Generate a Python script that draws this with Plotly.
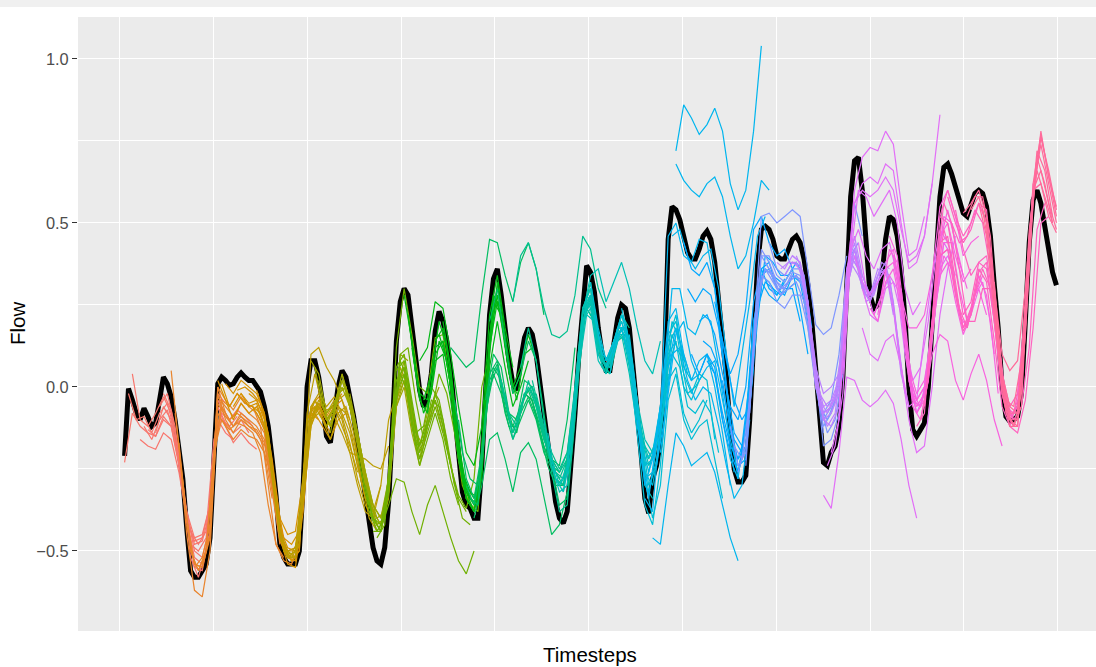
import math
import plotly.graph_objects as go

# ---------------- data ----------------
timesteps = list(range(241))

flow_observed = [
    -0.21, -0.005, -0.04, -0.08, -0.10, -0.065, -0.09, -0.12, -0.11, -0.03, 0.03, 0.01,
    -0.03, -0.10, -0.19, -0.28, -0.43, -0.56, -0.58, -0.58, -0.56, -0.54, -0.46, -0.25,
    0.01, 0.03, 0.02, 0.005, 0.01, 0.03, 0.043, 0.03, 0.02, 0.02, 0.005, -0.015,
    -0.06, -0.12, -0.22, -0.33, -0.48, -0.52, -0.54, -0.54, -0.54, -0.50, -0.30, 0.0,
    0.08, 0.08, 0.03, -0.05, -0.15, -0.17, -0.09, 0.0, 0.05, 0.03, -0.03, -0.09,
    -0.17, -0.25, -0.33, -0.41, -0.49, -0.53, -0.54, -0.49, -0.35, -0.12, 0.14, 0.26,
    0.30, 0.28, 0.18, 0.07, -0.01, -0.06, -0.04, 0.04, 0.17, 0.23, 0.20, 0.14,
    0.05, -0.08, -0.21, -0.32, -0.36, -0.37, -0.40, -0.40, -0.24, 0.01, 0.22, 0.33,
    0.36, 0.28, 0.17, 0.08, 0.01, -0.01, 0.08, 0.15, 0.18, 0.16, 0.10, 0.01,
    -0.09, -0.18, -0.27, -0.35, -0.40, -0.415, -0.38, -0.25, -0.08, 0.10, 0.26, 0.37,
    0.35, 0.29, 0.18, 0.10, 0.05, 0.05, 0.13, 0.21, 0.25, 0.24, 0.18, 0.06,
    -0.06, -0.20, -0.34, -0.385, -0.28, -0.24, -0.17, 0.05, 0.45, 0.55, 0.54, 0.51,
    0.46, 0.41, 0.39, 0.39, 0.42, 0.46, 0.475, 0.45, 0.38, 0.27, 0.16, 0.03,
    -0.13, -0.25, -0.29, -0.29, -0.27, -0.10, 0.13, 0.37, 0.48, 0.49, 0.48, 0.45,
    0.40, 0.39, 0.39, 0.42, 0.45, 0.46, 0.44, 0.39, 0.31, 0.20, 0.06, -0.06,
    -0.23, -0.24, -0.20, -0.18, -0.12, 0.03, 0.35, 0.58, 0.69, 0.70, 0.60, 0.42,
    0.28, 0.24, 0.25, 0.33, 0.45, 0.52, 0.51, 0.46, 0.36, 0.21, 0.0, -0.13,
    -0.15, -0.13, -0.11, 0.0, 0.19, 0.38, 0.58, 0.67, 0.68, 0.65, 0.61, 0.57,
    0.53, 0.52, 0.55, 0.59, 0.60, 0.59, 0.55, 0.46, 0.31, 0.18, 0.0, -0.09,
    -0.105, -0.10, -0.09, -0.02, 0.20, 0.44, 0.57, 0.60, 0.56, 0.49, 0.41, 0.35, 0.31,
]

# forecast groups: (issue timestep, values every 2 timesteps)
fc_00 = [
    (0, [-0.23, -0.08, -0.12, -0.14, -0.15, -0.10, -0.12, -0.24, -0.38, -0.46, -0.45, -0.36, -0.04]),
    (1, [-0.02, -0.10, -0.09, -0.14, -0.08, -0.05, -0.14, -0.30, -0.48, -0.50, -0.46, -0.20, -0.06]),
    (2, [0.04, -0.10, -0.12, -0.08, -0.03, -0.08, -0.20, -0.40, -0.52, -0.54, -0.44, -0.02, -0.05]),
    (4, [-0.16, -0.18, -0.19, -0.14, -0.16, -0.26, -0.40, -0.47, -0.46, -0.36, -0.10, -0.14, -0.16]),
    (5, [-0.12, -0.16, -0.10, -0.07, -0.16, -0.32, -0.44, -0.48, -0.44, -0.16, -0.10, -0.12, -0.09]),
    (6, [-0.13, -0.15, -0.09, -0.12, -0.23, -0.39, -0.48, -0.47, -0.38, -0.06, -0.11, -0.14, -0.12]),
    (8, [-0.14, -0.06, -0.10, -0.22, -0.41, -0.55, -0.56, -0.44, -0.04, -0.08, -0.12, -0.10, -0.14]),
    (9, [-0.06, -0.02, -0.12, -0.30, -0.52, -0.58, -0.50, -0.20, -0.08, -0.10, -0.07, -0.09, -0.12]),
    (10, [-0.02, -0.07, -0.20, -0.38, -0.50, -0.52, -0.42, -0.06, -0.12, -0.17, -0.14, -0.17, -0.19]),
]
fc_01 = [
    (12, [0.05, -0.18, -0.45, -0.62, -0.64, -0.50, -0.05, -0.09, -0.12, -0.09, -0.12, -0.14, -0.18]),
    (13, [-0.08, -0.30, -0.50, -0.56, -0.50, -0.22, -0.06, -0.10, -0.08, -0.10, -0.12, -0.16, -0.24]),
    (14, [-0.17, -0.40, -0.54, -0.55, -0.45, -0.08, -0.12, -0.16, -0.13, -0.15, -0.16, -0.20, -0.34]),
    (16, [-0.42, -0.54, -0.55, -0.46, -0.03, -0.06, -0.09, -0.05, -0.08, -0.10, -0.14, -0.30, -0.48]),
    (17, [-0.50, -0.56, -0.50, -0.20, -0.10, -0.13, -0.11, -0.12, -0.14, -0.20, -0.36, -0.48, -0.52]),
    (18, [-0.55, -0.52, -0.42, -0.02, -0.10, -0.14, -0.10, -0.12, -0.13, -0.17, -0.32, -0.47, -0.52]),
    (20, [-0.54, -0.45, 0.00, -0.04, -0.07, -0.03, -0.06, -0.08, -0.13, -0.28, -0.46, -0.52, -0.53]),
    (21, [-0.50, -0.22, -0.04, -0.06, -0.02, -0.05, -0.06, -0.12, -0.30, -0.48, -0.53, -0.54, -0.48]),
    (22, [-0.45, 0.00, -0.08, -0.12, -0.08, -0.10, -0.12, -0.16, -0.30, -0.45, -0.50, -0.49, -0.36]),
]
fc_02 = [
    (24, [0.02, -0.04, -0.10, -0.05, -0.08, -0.06, -0.12, -0.26, -0.45, -0.51, -0.52, -0.36, -0.12]),
    (25, [0.01, -0.06, -0.02, -0.05, -0.06, -0.08, -0.16, -0.34, -0.50, -0.53, -0.50, -0.10, -0.06]),
    (26, [0.01, -0.02, 0.02, 0.00, -0.02, -0.08, -0.24, -0.46, -0.54, -0.55, -0.38, -0.08, -0.10]),
    (28, [-0.06, -0.02, -0.05, -0.04, -0.10, -0.25, -0.44, -0.52, -0.53, -0.34, -0.10, -0.06, -0.12]),
    (29, [-0.01, 0.00, -0.02, -0.05, -0.14, -0.32, -0.48, -0.53, -0.50, -0.10, -0.04, -0.10, -0.14]),
    (30, [-0.02, -0.06, -0.05, -0.12, -0.27, -0.45, -0.50, -0.50, -0.33, -0.09, -0.05, -0.10, -0.08]),
    (32, [-0.02, -0.04, -0.09, -0.24, -0.43, -0.49, -0.50, -0.32, -0.06, -0.03, -0.09, -0.05, -0.02]),
    (33, [-0.06, -0.10, -0.16, -0.34, -0.46, -0.48, -0.44, -0.16, -0.08, -0.12, -0.16, -0.10, -0.08]),
    (34, [-0.01, -0.08, -0.22, -0.40, -0.45, -0.44, -0.28, -0.07, -0.05, -0.10, -0.06, -0.04, -0.10]),
]
fc_03 = [
    (36, [-0.10, -0.28, -0.46, -0.52, -0.50, -0.30, -0.10, -0.05, -0.07, -0.06, -0.12, -0.18, -0.26]),
    (37, [-0.14, -0.36, -0.50, -0.51, -0.46, -0.12, -0.04, -0.08, -0.12, -0.06, -0.08, -0.16, -0.28]),
    (38, [-0.26, -0.44, -0.50, -0.49, -0.27, -0.06, -0.02, -0.06, -0.03, -0.08, -0.14, -0.24, -0.34]),
    (40, [-0.46, -0.52, -0.52, -0.32, -0.10, -0.08, -0.12, -0.09, -0.14, -0.20, -0.30, -0.38, -0.40]),
    (41, [-0.50, -0.52, -0.48, -0.16, -0.06, -0.10, -0.16, -0.08, -0.06, -0.14, -0.28, -0.40, -0.44]),
    (42, [-0.50, -0.52, -0.34, 0.10, 0.12, 0.06, 0.02, -0.04, -0.12, -0.24, -0.34, -0.38, -0.30]),
    (44, [-0.50, -0.35, -0.12, -0.06, -0.10, -0.06, -0.10, -0.20, -0.21, -0.22, -0.24, -0.25, -0.18]),
    (45, [-0.46, -0.08, 0.04, -0.06, -0.12, -0.04, -0.02, -0.10, -0.22, -0.34, -0.42, -0.40, -0.20]),
    (46, [-0.33, -0.10, -0.04, -0.08, -0.04, -0.09, -0.17, -0.28, -0.36, -0.40, -0.30, -0.10, -0.02]),
]
fc_04 = [
    (48, [0.08, 0.04, -0.08, -0.05, 0.02, -0.05, -0.16, -0.28, -0.38, -0.42, -0.30, -0.04, 0.04]),
    (49, [0.06, -0.06, -0.12, -0.02, 0.00, -0.10, -0.22, -0.36, -0.44, -0.40, -0.16, 0.10, 0.08]),
    (50, [0.02, -0.10, -0.07, 0.00, -0.06, -0.17, -0.30, -0.40, -0.44, -0.32, -0.06, 0.02, -0.10]),
    (52, [-0.12, -0.06, 0.04, -0.04, -0.14, -0.26, -0.36, -0.40, -0.28, -0.02, 0.06, -0.08, -0.20]),
    (53, [-0.14, -0.02, 0.00, -0.08, -0.20, -0.32, -0.40, -0.38, -0.14, 0.06, 0.00, -0.16, -0.20]),
    (54, [-0.08, 0.02, -0.05, -0.16, -0.28, -0.38, -0.42, -0.32, -0.04, 0.02, -0.12, -0.22, -0.10]),
    (56, [0.04, -0.06, -0.18, -0.30, -0.40, -0.44, -0.34, -0.06, 0.00, -0.14, -0.24, -0.12, -0.06]),
    (57, [-0.02, -0.10, -0.22, -0.34, -0.42, -0.40, -0.16, 0.04, 0.02, -0.14, -0.18, -0.06, 0.00]),
    (58, [-0.02, -0.14, -0.26, -0.36, -0.40, -0.30, -0.02, 0.08, -0.06, -0.18, -0.08, -0.04, -0.14]),
]
fc_05 = [
    (60, [-0.20, -0.32, -0.40, -0.42, -0.28, 0.02, 0.06, -0.10, -0.22, -0.14, -0.06, -0.14, -0.24]),
    (61, [-0.26, -0.38, -0.44, -0.40, -0.12, 0.04, -0.02, -0.18, -0.16, -0.04, -0.06, -0.18, -0.30]),
    (62, [-0.30, -0.40, -0.44, -0.32, -0.02, 0.04, -0.12, -0.24, -0.16, -0.08, -0.16, -0.28, -0.36]),
    (64, [-0.44, -0.44, -0.30, 0.06, 0.10, -0.04, -0.18, -0.10, -0.02, -0.10, -0.24, -0.34, -0.38]),
    (65, [-0.46, -0.42, -0.14, 0.08, 0.02, -0.14, -0.12, 0.00, -0.04, -0.16, -0.30, -0.40, -0.42]),
    (66, [-0.43, -0.36, -0.28, -0.29, -0.38, -0.45, -0.36, -0.30, -0.38, -0.46, -0.53, -0.57, -0.50]),
    (68, [-0.30, 0.12, 0.30, 0.16, 0.00, -0.02, 0.15, 0.16, 0.00, -0.22, -0.34, -0.37, -0.22]),
    (69, [-0.16, 0.10, 0.12, -0.04, -0.16, -0.08, 0.04, -0.02, -0.14, -0.30, -0.36, -0.38, -0.10]),
    (70, [0.05, 0.08, -0.06, -0.20, -0.12, -0.04, -0.12, -0.24, -0.33, -0.37, -0.28, 0.00, 0.10]),
]
fc_06 = [
    (72, [0.28, 0.14, -0.02, -0.04, 0.12, 0.14, 0.00, -0.20, -0.32, -0.36, -0.22, 0.16, 0.30]),
    (73, [0.22, 0.04, -0.08, -0.02, 0.14, 0.08, -0.08, -0.28, -0.34, -0.36, -0.04, 0.28, 0.24]),
    (74, [0.12, -0.04, -0.08, 0.08, 0.10, -0.04, -0.22, -0.34, -0.38, -0.24, 0.12, 0.26, 0.14]),
    (76, [0.08, 0.12, 0.26, 0.24, 0.10, -0.06, -0.20, -0.24, -0.12, 0.22, 0.34, 0.18, 0.06]),
    (77, [-0.04, 0.04, 0.20, 0.12, -0.06, -0.26, -0.32, -0.34, 0.00, 0.28, 0.22, 0.04, -0.02]),
    (78, [-0.08, 0.10, 0.14, 0.00, -0.20, -0.34, -0.38, -0.26, 0.14, 0.28, 0.12, -0.02, 0.04]),
    (80, [0.14, 0.18, 0.04, -0.18, -0.30, -0.34, -0.24, 0.06, 0.20, 0.06, -0.06, 0.00, 0.08]),
    (81, [0.16, 0.08, -0.06, -0.26, -0.34, -0.36, -0.02, 0.26, 0.22, 0.06, -0.04, 0.10, 0.12]),
    (82, [0.20, 0.06, -0.16, -0.32, -0.38, -0.28, 0.10, 0.32, 0.16, 0.00, 0.06, 0.16, 0.08]),
]
fc_07 = [
    (84, [0.12, 0.09, 0.06, 0.08, 0.28, 0.45, 0.44, 0.34, 0.26, 0.38, 0.44, 0.36, 0.22]),
    (85, [-0.04, -0.20, -0.28, -0.30, -0.08, 0.06, 0.02, -0.10, -0.14, -0.02, -0.04, -0.14, -0.22]),
    (86, [-0.10, -0.28, -0.34, -0.20, 0.00, 0.06, -0.08, -0.16, -0.10, -0.04, -0.10, -0.20, -0.25]),
    (88, [-0.30, -0.36, -0.24, 0.02, 0.07, -0.06, -0.14, -0.08, -0.03, -0.09, -0.18, -0.24, -0.26]),
    (89, [-0.34, -0.36, -0.08, 0.04, -0.02, -0.12, -0.12, -0.02, -0.04, -0.14, -0.24, -0.30, -0.30]),
    (90, [-0.40, -0.30, -0.16, -0.14, -0.22, -0.32, -0.20, -0.17, -0.22, -0.33, -0.45, -0.42, -0.32]),
    (92, [-0.22, 0.04, 0.08, -0.04, -0.12, -0.06, -0.01, -0.08, -0.16, -0.22, -0.24, -0.10, 0.12]),
    (93, [-0.04, 0.10, 0.06, -0.08, -0.10, 0.02, 0.00, -0.10, -0.20, -0.28, -0.30, -0.16, 0.06]),
    (94, [0.20, 0.30, 0.14, -0.02, 0.04, 0.14, 0.08, -0.08, -0.24, -0.36, -0.34, -0.06, 0.22]),
]
fc_08 = [
    (96, [0.06, -0.04, -0.14, -0.06, 0.00, -0.04, -0.14, -0.22, -0.26, -0.22, -0.04, 0.22, 0.28]),
    (97, [0.02, -0.08, -0.12, -0.02, 0.00, -0.08, -0.18, -0.26, -0.28, -0.14, 0.12, 0.24, 0.20]),
    (98, [-0.02, -0.16, -0.08, 0.02, -0.06, -0.15, -0.24, -0.28, -0.22, -0.02, 0.20, 0.26, 0.10]),
    (100, [0.26, 0.40, 0.44, 0.36, 0.24, 0.16, 0.15, 0.17, 0.28, 0.46, 0.42, 0.30, 0.24]),
    (101, [-0.10, -0.02, 0.00, -0.10, -0.20, -0.28, -0.30, -0.16, 0.10, 0.24, 0.20, 0.06, 0.04]),
    (102, [0.06, 0.18, 0.08, -0.10, -0.26, -0.38, -0.36, -0.10, 0.22, 0.32, 0.16, 0.05, 0.10]),
    (104, [0.00, -0.06, -0.16, -0.22, -0.26, -0.20, 0.00, 0.24, 0.30, 0.14, 0.06, 0.14, 0.20]),
    (105, [0.02, -0.08, -0.18, -0.26, -0.30, -0.22, 0.04, 0.26, 0.24, 0.08, 0.04, 0.14, 0.16]),
    (106, [-0.02, -0.12, -0.20, -0.25, -0.20, -0.02, 0.20, 0.27, 0.12, 0.06, 0.12, 0.22, 0.18]),
]
fc_09 = [
    (108, [-0.10, -0.24, -0.32, -0.30, -0.06, 0.20, 0.28, 0.12, 0.06, 0.14, 0.18, 0.06, -0.10]),
    (109, [-0.14, -0.28, -0.32, -0.20, 0.06, 0.22, 0.20, 0.08, 0.06, 0.16, 0.14, 0.00, -0.16]),
    (110, [-0.22, -0.30, -0.26, -0.04, 0.20, 0.24, 0.08, 0.04, 0.12, 0.16, 0.04, -0.12, -0.20]),
    (112, [-0.30, -0.24, 0.00, 0.24, 0.30, 0.14, 0.06, 0.14, 0.22, 0.14, -0.04, -0.30, -0.34]),
    (113, [-0.32, -0.16, 0.08, 0.26, 0.22, 0.08, 0.06, 0.18, 0.18, 0.04, -0.14, -0.24, -0.18]),
    (114, [-0.22, -0.02, 0.22, 0.34, 0.36, 0.26, 0.32, 0.38, 0.30, 0.18, 0.08, 0.04, 0.14]),
    (116, [-0.04, 0.20, 0.26, 0.10, 0.04, 0.12, 0.18, 0.10, -0.06, -0.18, -0.22, -0.14, 0.04]),
    (117, [0.06, 0.28, 0.24, 0.08, 0.06, 0.16, 0.16, 0.02, -0.14, -0.22, -0.16, 0.00, 0.16]),
    (118, [0.24, 0.28, 0.10, 0.06, 0.14, 0.20, 0.12, -0.04, -0.16, -0.20, -0.12, 0.06, 0.14]),
]
fc_10 = [
    (120, [0.32, 0.18, 0.08, 0.14, 0.22, 0.14, -0.06, -0.22, -0.20, -0.06, 0.16, 0.20, 0.08]),
    (121, [0.22, 0.10, 0.08, 0.18, 0.18, 0.04, -0.16, -0.26, -0.14, 0.02, 0.20, 0.14, 0.04]),
    (122, [0.16, 0.08, 0.14, 0.20, 0.12, -0.08, -0.24, -0.22, -0.08, 0.14, 0.22, 0.06, 0.02]),
    (124, [0.06, 0.12, 0.18, 0.10, -0.10, -0.28, -0.26, -0.10, 0.10, 0.14, 0.00, -0.04, 0.02]),
    (125, [0.04, 0.16, 0.18, 0.04, -0.18, -0.32, -0.22, -0.04, 0.16, 0.10, -0.02, 0.00, 0.04]),
    (126, [0.10, 0.18, 0.08, -0.14, -0.36, -0.42, -0.24, 0.02, 0.06, -0.08, -0.14, -0.10, -0.04]),
    (128, [0.24, 0.14, -0.06, -0.26, -0.30, -0.16, 0.12, 0.18, 0.04, -0.02, 0.04, 0.02, -0.16]),
    (129, [0.20, 0.06, -0.14, -0.30, -0.24, -0.06, 0.10, 0.06, -0.06, -0.08, -0.04, -0.08, -0.20]),
    (130, [0.16, -0.04, -0.28, -0.40, -0.30, -0.04, 0.04, -0.10, -0.16, -0.12, -0.10, -0.22, -0.34]),
]
fc_11 = [
    (132, [-0.10, -0.30, -0.22, -0.06, 0.20, 0.24, 0.10, 0.02, 0.08, 0.10, 0.00, -0.14, -0.30]),
    (133, [-0.22, -0.34, -0.16, 0.02, 0.30, 0.30, 0.18, 0.16, 0.22, 0.20, 0.06, -0.10, -0.26]),
    (134, [-0.34, -0.38, -0.10, 0.46, 0.50, 0.40, 0.38, 0.45, 0.44, 0.30, 0.10, -0.12, -0.28]),
    (136, [-0.46, -0.48, -0.30, -0.14, -0.18, -0.24, -0.22, -0.20, -0.26, -0.36, -0.46, -0.53]),
    (137, [-0.24, -0.10, 0.10, 0.12, 0.02, -0.04, 0.00, -0.02, -0.12, -0.24, -0.34, -0.30, -0.10]),
    (138, [-0.20, -0.02, 0.16, 0.20, 0.08, 0.02, 0.06, 0.08, -0.04, -0.16, -0.26, -0.18, 0.06]),
    (140, [0.06, 0.18, 0.10, 0.02, 0.04, 0.10, 0.04, -0.10, -0.22, -0.28, -0.10, 0.20, 0.30]),
    (141, [0.46, 0.48, 0.40, 0.36, 0.40, 0.42, 0.30, 0.10, -0.06, 0.10, 0.26, 0.46, 0.52]),
    (142, [0.72, 0.86, 0.82, 0.77, 0.80, 0.85, 0.78, 0.62, 0.54, 0.60, 0.78, 1.04]),
    (142, [0.68, 0.63, 0.60, 0.58, 0.62, 0.64, 0.58, 0.46, 0.36, 0.40, 0.50, 0.63, 0.60]),
]
fc_12 = [
    (144, [0.44, 0.36, 0.34, 0.38, 0.30, 0.12, -0.10, -0.24, -0.22, 0.10, 0.36, 0.38, 0.30]),
    (145, [0.30, 0.26, 0.30, 0.28, 0.18, 0.00, -0.14, -0.18, 0.02, 0.30, 0.36, 0.34, 0.32]),
    (146, [0.10, 0.04, 0.10, 0.06, -0.10, -0.20, -0.26, -0.12, 0.18, 0.34, 0.32, 0.28, 0.33]),
    (148, [0.20, 0.22, 0.16, 0.04, -0.06, -0.10, 0.00, 0.26, 0.36, 0.30, 0.28, 0.32, 0.36]),
    (149, [0.14, 0.12, 0.06, -0.06, -0.16, -0.20, -0.06, 0.24, 0.32, 0.30, 0.28, 0.30, 0.32]),
    (150, [0.08, 0.04, -0.08, -0.18, -0.22, -0.14, 0.20, 0.32, 0.28, 0.26, 0.30, 0.30, 0.20]),
    (152, [0.26, 0.14, 0.04, 0.10, 0.24, 0.48, 0.52, 0.44, 0.40, 0.42, 0.36, 0.24, 0.10]),
    (153, [0.20, 0.08, -0.04, -0.10, -0.06, 0.20, 0.40, 0.38, 0.34, 0.34, 0.38, 0.34, 0.18]),
    (154, [0.02, -0.14, -0.22, -0.18, 0.14, 0.34, 0.36, 0.30, 0.28, 0.34, 0.32, 0.20, 0.02]),
]
fc_13 = [
    (156, [-0.12, -0.24, -0.20, 0.12, 0.40, 0.40, 0.34, 0.32, 0.36, 0.36, 0.24, 0.04, -0.14]),
    (157, [-0.18, -0.22, -0.04, 0.26, 0.36, 0.34, 0.30, 0.32, 0.34, 0.30, 0.14, -0.06, -0.10]),
    (158, [-0.26, -0.18, 0.14, 0.42, 0.38, 0.32, 0.30, 0.34, 0.33, 0.22, 0.02, -0.10, -0.06]),
    (160, [-0.24, 0.10, 0.34, 0.32, 0.26, 0.24, 0.28, 0.28, 0.18, 0.00, -0.12, -0.08, 0.00]),
    (161, [-0.08, 0.28, 0.36, 0.32, 0.28, 0.30, 0.32, 0.26, 0.10, -0.06, -0.10, -0.04, 0.10]),
    (162, [0.14, 0.52, 0.53, 0.50, 0.52, 0.54, 0.52, 0.36, 0.19, 0.16, 0.18, 0.28, 0.40]),
    (164, [0.40, 0.36, 0.30, 0.30, 0.35, 0.34, 0.22, 0.00, -0.08, -0.04, 0.10, 0.34, 0.42]),
    (165, [0.38, 0.34, 0.28, 0.32, 0.34, 0.30, 0.14, -0.04, -0.14, -0.10, 0.04, 0.40, 0.44]),
    (166, [0.44, 0.36, 0.34, 0.38, 0.37, 0.26, 0.04, -0.18, -0.16, -0.08, 0.30, 0.56, 0.46]),
]
fc_14 = [
    (168, [0.38, 0.36, 0.40, 0.38, 0.26, 0.04, -0.06, -0.04, 0.02, 0.30, 0.40, 0.34, 0.28]),
    (169, [0.36, 0.38, 0.38, 0.32, 0.14, -0.04, -0.08, -0.02, 0.14, 0.38, 0.34, 0.28, 0.28]),
    (170, [0.34, 0.38, 0.36, 0.24, 0.04, -0.08, -0.06, 0.00, 0.34, 0.42, 0.30, 0.26, 0.32]),
    (172, [0.40, 0.38, 0.26, 0.06, -0.02, 0.00, 0.04, 0.36, 0.44, 0.32, 0.28, 0.36, 0.34]),
    (173, [0.40, 0.34, 0.16, -0.02, -0.06, -0.04, 0.12, 0.40, 0.36, 0.28, 0.30, 0.38, 0.36]),
    (174, [0.36, 0.24, 0.02, -0.10, -0.08, -0.02, 0.30, 0.40, 0.30, 0.26, 0.34, 0.36, 0.22]),
    (176, [0.22, 0.00, -0.08, -0.06, 0.00, 0.36, 0.46, 0.34, 0.28, 0.34, 0.38, 0.26, 0.06]),
    (177, [0.14, -0.06, -0.12, -0.08, 0.10, 0.40, 0.36, 0.26, 0.28, 0.36, 0.34, 0.16, -0.02]),
    (178, [0.02, -0.10, -0.12, -0.06, 0.30, 0.42, 0.32, 0.27, 0.32, 0.36, 0.24, 0.04, -0.06]),
]
fc_15 = [
    (180, [-0.33, -0.37, -0.20, 0.03, 0.02, -0.04, -0.06, -0.04, -0.01, -0.05, -0.16, -0.30, -0.40]),
    (181, [-0.24, -0.18, -0.02, 0.40, 0.60, 0.58, 0.52, 0.56, 0.60, 0.50, 0.30, 0.22, 0.26]),
    (182, [-0.20, -0.10, 0.30, 0.60, 0.70, 0.73, 0.72, 0.78, 0.74, 0.56, 0.40, 0.42, 0.52]),
    (184, [-0.10, 0.30, 0.56, 0.62, 0.64, 0.62, 0.68, 0.66, 0.50, 0.36, 0.38, 0.46, 0.62]),
    (185, [0.04, 0.42, 0.48, 0.40, 0.36, 0.42, 0.44, 0.34, 0.14, 0.02, 0.06, 0.20, 0.40]),
    (186, [0.34, 0.56, 0.60, 0.58, 0.60, 0.64, 0.60, 0.48, 0.38, 0.40, 0.46, 0.62, 0.83]),
    (188, [0.40, 0.32, 0.28, 0.32, 0.36, 0.24, 0.06, -0.06, -0.04, 0.16, 0.34, 0.48, 0.44]),
    (189, [0.44, 0.30, 0.22, 0.28, 0.34, 0.30, 0.10, -0.04, -0.06, 0.06, 0.30, 0.44, 0.40]),
    (190, [0.30, 0.22, 0.20, 0.30, 0.32, 0.22, 0.04, -0.08, -0.02, 0.20, 0.36, 0.40, 0.34]),
    (190, [0.18, 0.10, 0.08, 0.14, 0.16, 0.06, -0.10, -0.20, -0.18, 0.00, 0.22, 0.36, 0.46]),
]
fc_16 = [
    (192, [0.24, 0.20, 0.32, 0.36, 0.24, 0.02, -0.06, -0.02, 0.16, 0.44, 0.54, 0.44, 0.34]),
    (193, [0.22, 0.28, 0.42, 0.38, 0.14, -0.06, -0.10, 0.02, 0.32, 0.52, 0.50, 0.38, 0.30]),
    (194, [0.22, 0.36, 0.38, 0.26, 0.04, -0.04, 0.00, 0.20, 0.46, 0.50, 0.40, 0.32, 0.36]),
    (196, [0.38, 0.42, 0.28, 0.18, 0.18, 0.22, 0.34, 0.55, 0.60, 0.52, 0.40, 0.44, 0.46]),
    (197, [0.46, 0.40, 0.20, -0.02, -0.06, 0.02, 0.26, 0.44, 0.44, 0.30, 0.20, 0.28, 0.34]),
    (198, [0.40, 0.28, 0.04, -0.04, 0.00, 0.18, 0.40, 0.42, 0.30, 0.18, 0.22, 0.30, 0.22]),
    (200, [0.30, 0.06, -0.02, 0.02, 0.16, 0.34, 0.38, 0.26, 0.16, 0.22, 0.34, 0.28, 0.10]),
    (201, [0.18, -0.04, -0.06, 0.04, 0.26, 0.40, 0.36, 0.22, 0.18, 0.28, 0.32, 0.20, -0.02]),
    (202, [0.02, -0.08, -0.04, 0.10, 0.16, 0.14, 0.02, -0.04, 0.04, 0.10, 0.02, -0.10, -0.18]),
]
fc_17 = [
    (204, [-0.12, -0.08, 0.20, 0.52, 0.60, 0.52, 0.46, 0.50, 0.56, 0.50, 0.28, 0.00, -0.10]),
    (205, [-0.10, 0.02, 0.36, 0.56, 0.50, 0.44, 0.46, 0.54, 0.50, 0.36, 0.10, -0.06, -0.10]),
    (206, [-0.06, 0.18, 0.44, 0.46, 0.30, 0.18, 0.24, 0.36, 0.32, 0.14, -0.06, -0.12, -0.04]),
    (208, [0.16, 0.40, 0.42, 0.28, 0.17, 0.22, 0.35, 0.38, 0.20, -0.02, -0.10, -0.06, 0.22]),
    (209, [0.30, 0.48, 0.40, 0.24, 0.18, 0.28, 0.36, 0.30, 0.10, -0.06, -0.08, 0.04, 0.40]),
    (210, [0.52, 0.50, 0.36, 0.22, 0.26, 0.38, 0.40, 0.24, 0.04, -0.06, -0.02, 0.24, 0.62]),
    (212, [0.58, 0.50, 0.44, 0.48, 0.56, 0.54, 0.30, 0.02, -0.09, -0.06, 0.22, 0.60, 0.62]),
    (213, [0.50, 0.36, 0.20, 0.20, 0.30, 0.30, 0.16, -0.04, -0.10, -0.06, 0.12, 0.48, 0.56]),
    (214, [0.54, 0.42, 0.34, 0.38, 0.36, 0.20, -0.02, -0.12, -0.14, -0.04, 0.18, 0.50, 0.52]),
]
fc_18 = [
    (216, [0.53, 0.56, 0.60, 0.52, 0.28, -0.02, -0.12, -0.12, 0.16, 0.60, 0.74, 0.62, 0.50]),
    (217, [0.52, 0.58, 0.58, 0.46, 0.16, -0.08, -0.12, -0.02, 0.46, 0.72, 0.66, 0.52]),
    (218, [0.54, 0.58, 0.50, 0.26, 0.04, -0.06, -0.08, 0.20, 0.62, 0.77, 0.64, 0.52]),
    (220, [0.56, 0.46, 0.22, 0.00, -0.10, -0.12, 0.18, 0.58, 0.76, 0.66, 0.54]),
    (221, [0.54, 0.40, 0.12, -0.06, -0.12, -0.06, 0.42, 0.70, 0.62, 0.50]),
    (222, [0.50, 0.30, 0.10, 0.05, 0.08, 0.30, 0.60, 0.66, 0.56, 0.48]),
    (224, [0.32, 0.04, -0.08, -0.08, 0.22, 0.60, 0.62, 0.52, 0.47]),
    (225, [0.10, -0.04, -0.06, 0.08, 0.48, 0.66, 0.58, 0.50]),
    (226, [0.02, -0.10, -0.10, 0.16, 0.56, 0.78, 0.64, 0.55]),
]

forecast_groups = [fc_00, fc_01, fc_02, fc_03, fc_04, fc_05, fc_06, fc_07, fc_08, fc_09,
                   fc_10, fc_11, fc_12, fc_13, fc_14, fc_15, fc_16, fc_17, fc_18]

y_tick_vals = [-0.5, 0.0, 0.5, 1.0]
y_tick_text = ["\u22120.5", "0.0", "0.5", "1.0"]
y_minor_vals = [-0.75, -0.25, 0.25, 0.75]
x_grid_vals = [-1.3, 22.9, 47.0, 71.2, 95.3, 119.5, 143.7, 167.8, 192.0, 216.1, 240.3]


# ---------------- styling helpers ----------------
def hcl_hex(h, c=100.0, l=65.0):
    hr = math.radians(h)
    u = c * math.cos(hr)
    v = c * math.sin(hr)
    un, vn = 0.1978398, 0.4683363
    Y = ((l + 16.0) / 116.0) ** 3
    up = u / (13 * l) + un
    vp = v / (13 * l) + vn
    X = Y * 9 * up / (4 * vp)
    Z = Y * (12 - 3 * up - 20 * vp) / (4 * vp)
    r = 3.2404542 * X - 1.5371385 * Y - 0.4985314 * Z
    g = -0.9692660 * X + 1.8760108 * Y + 0.0415560 * Z
    b = 0.0556434 * X - 0.2040259 * Y + 1.0572252 * Z

    def gam(t):
        t = 12.92 * t if t <= 0.0031308 else 1.055 * t ** (1 / 2.4) - 0.055
        return int(round(min(1.0, max(0.0, t)) * 255))

    return "#%02X%02X%02X" % (gam(r), gam(g), gam(b))


fig = go.Figure()

fig.add_trace(go.Scatter(
    x=timesteps, y=flow_observed, mode="lines",
    line=dict(color="black", width=5.0), hoverinfo="skip",
))

n_groups = len(forecast_groups)
for k, grp in enumerate(forecast_groups):
    col = hcl_hex(15 + 360.0 * k / n_groups)
    for start, vals in grp:
        xs = [start + 2 * m for m in range(len(vals))]
        fig.add_trace(go.Scatter(
            x=xs, y=vals, mode="lines",
            line=dict(color=col, width=1.2), hoverinfo="skip",
        ))

W, H = 1096, 667
L, R, T, B = 78, 0, 17, 36
plot_w = W - L - R
plot_h = H - T - B

fig.update_layout(
    width=W, height=H,
    margin=dict(l=L, r=R, t=T, b=B, pad=0),
    paper_bgcolor="white",
    plot_bgcolor="#EBEBEB",
    showlegend=False,
    font=dict(family="Liberation Sans, Arial, sans-serif"),
    xaxis=dict(
        range=[-12.0, -12.0 + plot_w / 3.8826],
        tickvals=x_grid_vals, showticklabels=False, ticks="",
        showgrid=True, gridcolor="white", gridwidth=1.3,
        zeroline=False, showline=False,
    ),
    yaxis=dict(
        range=[-0.744, 1.128],
        tickvals=y_tick_vals, ticktext=y_tick_text,
        ticks="outside", ticklen=5, tickwidth=1.4, tickcolor="#333333",
        tickfont=dict(size=16.4, color="#4D4D4D"),
        showgrid=True, gridcolor="white", gridwidth=1.3,
        minor=dict(tickvals=y_minor_vals, showgrid=True, gridcolor="white",
                   gridwidth=0.7, ticks=""),
        zeroline=False, showline=False,
    ),
    shapes=[dict(
        type="rect", xref="paper", yref="paper",
        x0=-L / plot_w - 0.01, x1=1.01,
        y0=1 + 10.0 / plot_h, y1=1 + (T + 2) / plot_h,
        fillcolor="#F0F0F0", line=dict(width=0), layer="below",
    )],
    annotations=[
        dict(text="Flow", xref="paper", yref="paper",
             x=(17 - L) / plot_w, y=0.5, textangle=-90,
             xanchor="center", yanchor="middle", showarrow=False,
             font=dict(size=20.5, color="black")),
        dict(text="Timesteps", xref="paper", yref="paper",
             x=(590 - L) / plot_w, y=0, yshift=-23,
             xanchor="center", yanchor="middle", showarrow=False,
             font=dict(size=20.5, color="black")),
    ],
)

fig.write_html("out.html")
